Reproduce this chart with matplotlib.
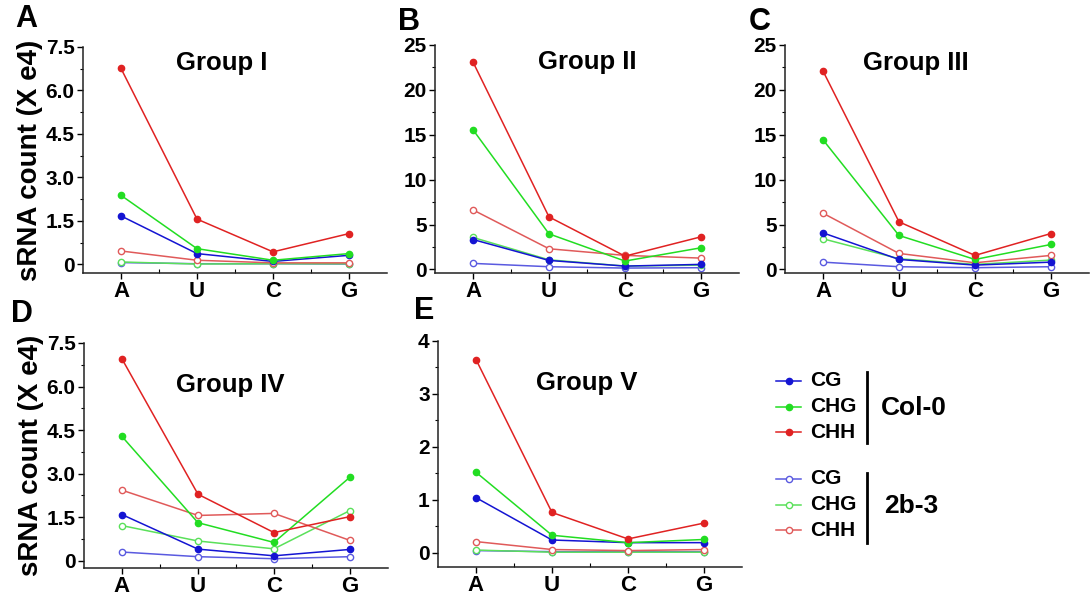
import matplotlib.pyplot as plt

plt.rcParams['font.family'] = ['Liberation Sans', 'DejaVu Sans']
plt.rcParams['font.weight'] = 'bold'

W, H = 1090, 599

bases = ['A', 'U', 'C', 'G']
series = ['CG', 'CHG', 'CHH']
colors_col = {'CG': '#1414d2', 'CHG': '#22dd22', 'CHH': '#e02222'}
colors_mut = {'CG': '#5a5ae0', 'CHG': '#5ae05a', 'CHH': '#e05a5a'}

# values in units of 1e4 reads, order A, U, C, G
g1_col = {'CG': [1.67, 0.37, 0.10, 0.31],
          'CHG': [2.38, 0.54, 0.14, 0.37],
          'CHH': [6.76, 1.56, 0.43, 1.06]}
g1_mut = {'CG': [0.06, 0.02, 0.02, 0.01],
          'CHG': [0.08, 0.01, 0.02, 0.02],
          'CHH': [0.46, 0.14, 0.05, 0.05]}

g2_col = {'CG': [3.33, 1.00, 0.37, 0.56],
          'CHG': [15.56, 3.96, 0.93, 2.41],
          'CHH': [23.1, 5.85, 1.48, 3.63]}
g2_mut = {'CG': [0.67, 0.30, 0.15, 0.19],
          'CHG': [3.56, 1.07, 0.37, 0.48],
          'CHH': [6.63, 2.30, 1.56, 1.26]}

g3_col = {'CG': [4.07, 1.11, 0.48, 0.81],
          'CHG': [14.44, 3.78, 1.11, 2.78],
          'CHH': [22.1, 5.30, 1.56, 4.00]}
g3_mut = {'CG': [0.81, 0.30, 0.19, 0.30],
          'CHG': [3.41, 1.19, 0.56, 1.04],
          'CHH': [6.26, 1.78, 0.74, 1.56]}

g4_col = {'CG': [1.59, 0.40, 0.17, 0.39],
          'CHG': [4.28, 1.31, 0.63, 2.88],
          'CHH': [6.95, 2.29, 0.97, 1.52]}
g4_mut = {'CG': [0.30, 0.14, 0.07, 0.14],
          'CHG': [1.21, 0.68, 0.41, 1.73],
          'CHH': [2.43, 1.56, 1.63, 0.70]}

g5_col = {'CG': [1.04, 0.24, 0.19, 0.19],
          'CHG': [1.52, 0.33, 0.19, 0.25],
          'CHH': [3.65, 0.76, 0.26, 0.56]}
g5_mut = {'CG': [0.04, 0.02, 0.02, 0.02],
          'CHG': [0.05, 0.01, 0.01, 0.01],
          'CHH': [0.21, 0.06, 0.04, 0.06]}

# letter, title, col data, mutant data, yticks, ylabels, minor step, ymin,
# box (left, right, bottom, top px), title pos (axes frac), letter pos (px)
panels = [
    ('A', 'Group I', g1_col, g1_mut, [0, 1.5, 3.0, 4.5, 6.0, 7.5],
     ['0', '1.5', '3.0', '4.5', '6.0', '7.5'], 0.75, -0.3, (83, 387, 273, 47),
     (0.457, 0.93), (26, 19)),
    ('B', 'Group II', g2_col, g2_mut, [0, 5, 10, 15, 20, 25],
     ['0', '5', '10', '15', '20', '25'], 2.5, -0.4, (435, 739, 273, 45),
     (0.5, 0.925), (409, 22)),
    ('C', 'Group III', g3_col, g3_mut, [0, 5, 10, 15, 20, 25],
     ['0', '5', '10', '15', '20', '25'], 2.5, -0.4, (785, 1089, 273, 45),
     (0.43, 0.92), (760, 22)),
    ('D', 'Group IV', g4_col, g4_mut, [0, 1.5, 3.0, 4.5, 6.0, 7.5],
     ['0', '1.5', '3.0', '4.5', '6.0', '7.5'], 0.75, -0.25, (84, 388, 568, 343),
     (0.48, 0.813), (22, 314)),
    ('E', 'Group V', g5_col, g5_mut, [0, 1, 2, 3, 4],
     ['0', '1', '2', '3', '4'], 0.5, -0.27, (438, 742, 567, 341),
     (0.49, 0.814), (424, 311)),
]

fig = plt.figure(figsize=(W / 100, H / 100), dpi=100)

def rect(l, r, b, t):
    return [l / W, 1 - b / H, (r - l) / W, (b - t) / H]

xpos = [1, 2, 3, 4]
for letter, title, dcol, dmut, yt, ytl, mstep, ymin, box, tpos, lpos in panels:
    ax = fig.add_axes(rect(*box))
    for s in series:
        ax.plot(xpos, dmut[s], '-o', color=colors_mut[s], lw=1.1, ms=4.5,
                mfc='white', mec=colors_mut[s], mew=1.0)
    for s in series:
        ax.plot(xpos, dcol[s], '-o', color=colors_col[s], lw=1.1, ms=4.5,
                mfc=colors_col[s], mec=colors_col[s])
    ax.set_xlim(0.5, 4.5)
    ax.set_ylim(ymin, yt[-1])
    ax.set_xticks(xpos)
    ax.set_xticklabels(bases, fontsize=16, fontweight='bold')
    ax.set_xticks([1.5, 2.5, 3.5], minor=True)
    ax.set_yticks(yt)
    ax.set_yticklabels(ytl, fontsize=15, fontweight='bold')
    nmin = int(round(yt[-1] / mstep))
    ax.set_yticks([mstep * i for i in range(nmin + 1)], minor=True)
    ax.tick_params(axis='both', which='major', length=4, width=1, pad=2)
    ax.tick_params(axis='y', which='minor', length=2.5, width=0.8)
    ax.tick_params(axis='x', which='minor', length=3, width=0.8, direction='in')
    for sp in ['top', 'right']:
        ax.spines[sp].set_visible(False)
    for sp in ['left', 'bottom']:
        ax.spines[sp].set_linewidth(1.1)
        ax.spines[sp].set_color('#222222')
    ax.text(tpos[0], tpos[1], title, transform=ax.transAxes, ha='center', va='center',
            fontsize=18.5, fontweight='bold')
    if letter in ('A', 'D'):
        ax.set_ylabel('sRNA count (X e4)', fontsize=20, fontweight='bold', labelpad=2)
    fig.text(lpos[0] / W, 1 - lpos[1] / H, letter, fontsize=22,
             fontweight='bold', ha='center', va='center')

# legend
leg = fig.add_axes([0, 0, 1, 1])
leg.set_xlim(0, W)
leg.set_ylim(H, 0)
leg.axis('off')
rows_col = [381, 407, 432]
rows_mut = [479, 505, 530]
for s, y in zip(series, rows_col):
    leg.plot([776, 801], [y, y], '-', color=colors_col[s], lw=1.1)
    leg.plot([788.5], [y], 'o', color=colors_col[s], ms=4.5)
    leg.text(810, y, s, fontsize=15, fontweight='bold', va='center', ha='left')
for s, y in zip(series, rows_mut):
    leg.plot([776, 801], [y, y], '-', color=colors_mut[s], lw=1.1)
    leg.plot([788.5], [y], 'o', color=colors_mut[s], ms=4.5, mfc='white', mew=1.0)
    leg.text(810, y, s, fontsize=15, fontweight='bold', va='center', ha='left')
leg.plot([867, 867], [372, 443], '-', color='black', lw=2)
leg.plot([867, 867], [473, 543], '-', color='black', lw=2)
leg.text(881, 408, 'Col-0', fontsize=19, fontweight='bold', va='center', ha='left')
leg.text(884, 506, '2b-3', fontsize=19, fontweight='bold', va='center', ha='left')

fig.savefig('out.png', dpi=100)
